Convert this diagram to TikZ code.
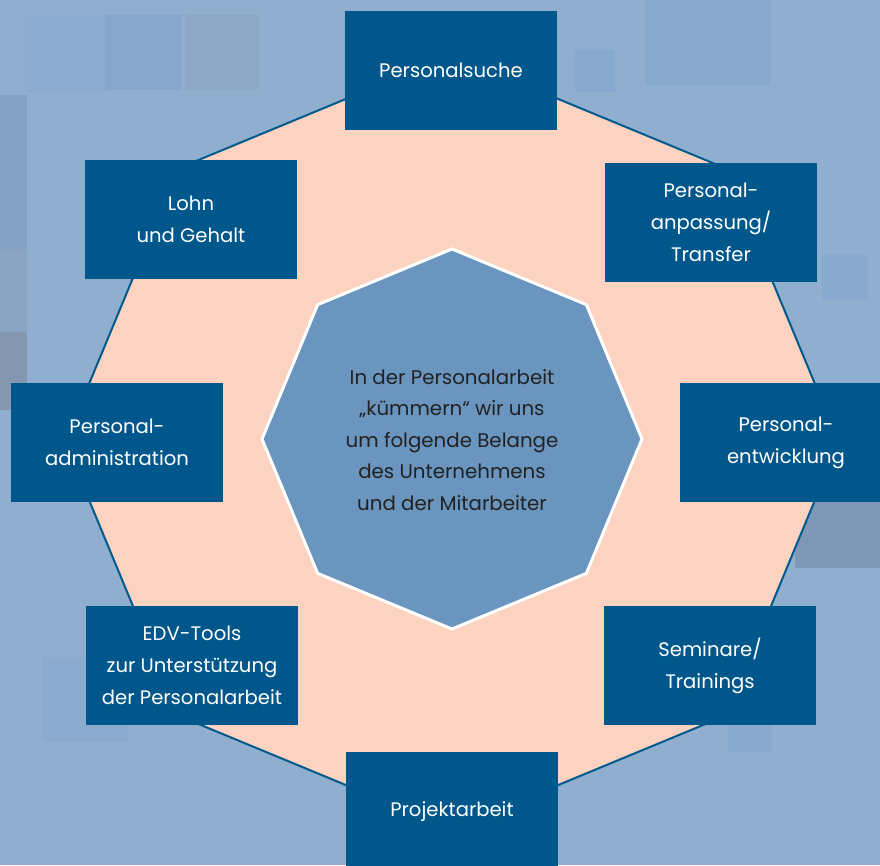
\documentclass[tikz,border=0pt]{standalone}
\usepackage{fontspec}
\setmainfont{Poppins}
\usetikzlibrary{calc}
\definecolor{bgblue}{HTML}{90AECD}
\definecolor{boxblue}{HTML}{00578B}
\definecolor{lineblue}{HTML}{005A8D}
\definecolor{peach}{HTML}{FBD3C0}
\definecolor{octblue}{HTML}{6995BE}
\definecolor{textdark}{HTML}{222222}
\definecolor{tA}{HTML}{8CADD0}
\definecolor{tB}{HTML}{86A7CB}
\definecolor{tC}{HTML}{8DA8C6}
\definecolor{tD}{HTML}{86A9CC}
\definecolor{tE}{HTML}{87A9CD}
\definecolor{tF}{HTML}{89A9CE}
\definecolor{tG}{HTML}{7D98B6}
\definecolor{tH}{HTML}{8AAACE}
\definecolor{tI}{HTML}{85A2C4}
\definecolor{tJ}{HTML}{8AA4C2}
\definecolor{tK}{HTML}{8596B0}
\tikzset{
  topic/.style={fill=boxblue, text=white, minimum width=212pt, minimum height=119pt,
    inner sep=0pt, align=center, font=\fontsize{19.6}{32}\selectfont},
  centertext/.style={text=textdark, align=center, font=\fontsize{19.8}{31.5}\selectfont},
  tile/.style={fill=#1, draw=none}
}
\begin{document}
\begin{tikzpicture}[x=1pt,y=-1pt]
% background
\fill[bgblue] (0,0) rectangle (880,865);
\useasboundingbox (0,0) rectangle (880,865);
% faint mosaic tiles
\fill[tile=tA] (25,15) rectangle (105,92);
\fill[tile=tB] (105,15) rectangle (182,90);
\fill[tile=tC] (185,15) rectangle (258,90);
\fill[tile=tD] (645,0) rectangle (770,85);
\fill[tile=tE] (575,50) rectangle (615,92);
\fill[tile=tF] (822,255) rectangle (868,300);
\fill[tile=tG] (795,500) rectangle (880,568);
\fill[tile=tH] (43,657) rectangle (128,742);
\fill[tile=tF] (728,725) rectangle (772,752);
\fill[tile=tI] (0,95) rectangle (27,250);
\fill[tile=tJ] (0,250) rectangle (27,332);
\fill[tile=tK] (0,332) rectangle (27,410);
% outer octagon
\coordinate (c) at (452,442);
\filldraw[fill=peach, draw=lineblue, line width=2pt]
  ($(c)+(0:387)$) -- ($(c)+(45:387)$) -- ($(c)+(90:387)$) -- ($(c)+(135:387)$)
  -- ($(c)+(180:387)$) -- ($(c)+(225:387)$) -- ($(c)+(270:387)$) -- ($(c)+(315:387)$) -- cycle;
% inner octagon
\coordinate (ic) at (452,439);
\filldraw[fill=octblue, draw=white, line width=3pt, line join=miter]
  ($(ic)+(0:190)$) -- ($(ic)+(45:190)$) -- ($(ic)+(90:190)$) -- ($(ic)+(135:190)$)
  -- ($(ic)+(180:190)$) -- ($(ic)+(225:190)$) -- ($(ic)+(270:190)$) -- ($(ic)+(315:190)$) -- cycle;
\node[centertext] (center) at (452,440) {In der Personalarbeit\\„kümmern“ wir uns\\um folgende Belange\\des Unternehmens\\und der Mitarbeiter};
% topic boxes
\node[topic] (suche) at (451,70.5) {Personalsuche};
\node[topic] (lohn) at (191,219.5) {Lohn\\und Gehalt};
\node[topic] (admin) at (117,442.5) {Personal-\\administration};
\node[topic] (edv) at (192,665.5) {EDV-Tools\\zur Unterstützung\\der Personalarbeit};
\node[topic] (projekt) at (452,811.5) {Projektarbeit};
\node[topic] (seminare) at (710,665.5) {Seminare/\\Trainings};
\node[topic] (entw) at (786,442.5) {Personal-\\entwicklung};
\node[topic] (anpass) at (711,222) {Personal-\\anpassung/\\Transfer};
\end{tikzpicture}
\end{document}
